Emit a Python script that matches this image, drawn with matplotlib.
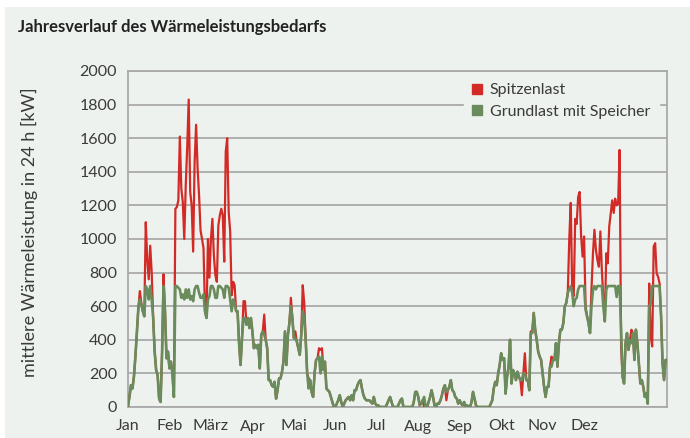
import numpy as np
import matplotlib
matplotlib.use("Agg")
import matplotlib.pyplot as plt
from matplotlib.lines import Line2D
from matplotlib.patches import Rectangle

# ---------------- data (daily values, kW) ----------------
title = "Jahresverlauf des Wärmeleistungsbedarfs"
ylabel = "mittlere Wärmeleistung in 24 h [kW]"
months = ["Jan", "Feb", "März", "Apr", "Mai", "Jun", "Jul", "Aug", "Sep", "Okt", "Nov", "Dez"]
series_names = ["Spitzenlast", "Grundlast mit Speicher"]

spitzenlast = [
    0, 60, 130, 110, 180, 300, 450, 590, 690, 620,
    570, 540, 1100, 880, 760, 960, 800, 530, 330, 220,
    190, 50, 30, 320, 790, 570, 290, 330, 230, 270,
    200, 60, 1180, 1190, 1230, 1610, 1300, 1220, 1000, 1320,
    1550, 1830, 1280, 1200, 925, 1460, 1680, 1420, 1260, 1050,
    1000, 945, 570, 530, 1000, 770, 1000, 1120, 900, 785,
    745, 1080, 1140, 1180, 1140, 865, 1520, 1600, 1160, 1045,
    665, 745, 725, 570, 570, 380, 250, 410, 630, 630,
    490, 530, 470, 530, 450, 350, 370, 350, 370, 230,
    430, 450, 550, 400, 350, 160, 160, 130, 120, 150,
    50, 100, 170, 170, 210, 270, 450, 250, 430, 500,
    650, 530, 410, 450, 390, 350, 310, 430, 725, 620,
    400, 200, 170, 160, 90, 60, 200, 280, 290, 350,
    340, 350, 220, 270, 110, 100, 90, 60, 30, 0,
    0, 20, 40, 70, 30, 0, 20, 40, 50, 60,
    40, 70, 40, 100, 100, 130, 150, 160, 110, 70,
    50, 40, 40, 40, 30, 20, 60, 20, 10, 10,
    0, 0, 0, 0, 0, 20, 40, 60, 30, 0,
    0, 0, 0, 20, 40, 50, 0, 0, 0, 0,
    0, 0, 0, 30, 90, 90, 60, 10, 20, 40,
    0, 0, 0, 30, 60, 100, 60, 10, 0, 20,
    20, 40, 70, 110, 130, 40, 100, 120, 160, 100,
    90, 60, 50, 20, 40, 20, 10, 30, 0, 10,
    0, 0, 30, 90, 50, 10, 0, 0, 0, 0,
    0, 0, 0, 0, 0, 20, 40, 110, 150, 130,
    200, 250, 320, 280, 290, 80, 180, 240, 400, 140,
    220, 200, 160, 210, 180, 160, 70, 200, 320, 160,
    160, 100, 450, 440, 560, 460, 400, 330, 300, 280,
    200, 120, 60, 120, 120, 240, 300, 280, 280, 380,
    240, 380, 460, 460, 500, 600, 620, 680, 1000, 1215,
    680, 660, 1120, 1090, 1250, 1280, 1015, 895, 1015, 600,
    540, 500, 440, 700, 915, 1055, 935, 875, 835, 1045,
    815, 650, 510, 915, 855, 1075, 1155, 1230, 1155, 1240,
    1200, 1210, 1530, 360, 180, 140, 380, 440, 340, 400,
    460, 440, 280, 460, 380, 260, 140, 160, 120, 60,
    80, 20, 735, 420, 360, 955, 975, 795, 775, 735,
    540, 260, 160, 280, 280,
]

grundlast = [
    10, 60, 130, 110, 180, 300, 450, 590, 640, 610,
    570, 540, 720, 700, 640, 720, 640, 530, 330, 220,
    190, 50, 30, 320, 720, 570, 290, 330, 230, 270,
    200, 60, 720, 720, 710, 700, 650, 670, 640, 700,
    650, 700, 640, 660, 630, 700, 720, 720, 680, 650,
    650, 670, 570, 530, 640, 660, 720, 720, 700, 650,
    650, 720, 720, 710, 700, 650, 720, 720, 710, 640,
    570, 640, 620, 570, 570, 380, 250, 410, 530, 530,
    490, 530, 470, 530, 450, 350, 370, 350, 370, 230,
    430, 450, 430, 400, 350, 160, 160, 130, 120, 150,
    50, 100, 170, 170, 210, 270, 450, 250, 430, 500,
    600, 530, 410, 410, 390, 350, 310, 430, 570, 530,
    400, 200, 110, 160, 90, 60, 200, 280, 290, 300,
    200, 300, 220, 270, 110, 100, 90, 60, 30, 0,
    0, 20, 40, 70, 30, 0, 20, 40, 50, 60,
    40, 70, 40, 100, 100, 130, 150, 160, 110, 70,
    50, 40, 40, 40, 30, 20, 60, 20, 10, 10,
    0, 0, 0, 0, 0, 20, 40, 60, 30, 0,
    0, 0, 0, 20, 40, 50, 0, 0, 0, 0,
    0, 0, 0, 30, 90, 90, 60, 10, 20, 40,
    60, 0, 0, 30, 60, 100, 60, 10, 0, 20,
    20, 40, 70, 110, 130, 90, 100, 120, 160, 100,
    90, 60, 50, 20, 40, 20, 10, 30, 0, 10,
    0, 0, 30, 90, 50, 10, 0, 0, 0, 0,
    0, 0, 0, 0, 0, 20, 40, 110, 150, 130,
    200, 250, 320, 280, 290, 80, 180, 240, 400, 140,
    220, 200, 160, 210, 180, 160, 160, 200, 200, 160,
    160, 100, 440, 440, 560, 460, 400, 330, 300, 280,
    200, 120, 60, 120, 120, 240, 240, 280, 280, 380,
    240, 380, 460, 460, 500, 600, 620, 680, 700, 720,
    680, 600, 640, 650, 700, 720, 720, 720, 720, 580,
    540, 500, 440, 600, 695, 720, 700, 720, 720, 720,
    720, 600, 510, 700, 720, 720, 720, 720, 720, 720,
    655, 720, 720, 460, 180, 140, 380, 440, 340, 400,
    380, 440, 280, 460, 380, 260, 140, 160, 120, 60,
    80, 20, 600, 615, 720, 720, 720, 720, 720, 720,
    540, 260, 160, 280, 280,
]

# ---------------- style ----------------
BG = "#eef2ee"
TXT = "#3a3a3a"
GRID = "#a9a9a9"
RED = "#d22b27"
GREEN = "#6a8c5c"
FONT = ["Lato", "DejaVu Sans"]

W, H = 690, 438
fig = plt.figure(figsize=(W / 100, H / 100), dpi=100, facecolor="white")
fig.patches.append(Rectangle((5 / W, 0), 1, 1 - 7 / H, transform=fig.transFigure,
                             facecolor=BG, edgecolor="none", zorder=-10))

ax = fig.add_axes([128 / W, 1 - 407 / H, (667 - 128) / W, (407 - 71) / H])
ax.set_facecolor(BG)

days = np.arange(len(grundlast))
ax.plot(days, spitzenlast, color=RED, lw=1.6, zorder=3, solid_joinstyle="round")
ax.plot(days, grundlast, color=GREEN, lw=1.9, zorder=4, solid_joinstyle="round")

ax.set_xlim(0, len(grundlast) - 1)
ax.set_ylim(0, 2000)
yt = np.arange(0, 2001, 200)
ax.set_yticks(yt)
for v in yt:
    ax.axhline(v, color=GRID, lw=1.3, zorder=1)
ax.set_xticks(np.arange(len(months)) * 28)
ax.set_xticklabels(months)
ax.tick_params(length=0, labelsize=11.5, labelcolor=TXT)
ax.tick_params(axis="y", pad=8)
ax.tick_params(axis="x", pad=9)
for lab in ax.get_xticklabels() + ax.get_yticklabels():
    lab.set_family(FONT)

for s in ax.spines.values():
    s.set_color(GRID)
    s.set_linewidth(1.3)

ax.set_ylabel(ylabel, fontsize=13, color=TXT, family=FONT)
ax.yaxis.set_label_coords((38 - 128) / (667 - 128), (407 - 232) / (407 - 71))

handles = [Line2D([], [], ls="none", marker="s", markersize=7.5, color=RED),
           Line2D([], [], ls="none", marker="s", markersize=7.5, color=GREEN)]
leg = ax.legend(handles, series_names, loc="upper left",
                bbox_to_anchor=((462 - 128) / (667 - 128), 0.995),
                frameon=True, fancybox=False, handlelength=0.6, handletextpad=0.5,
                labelspacing=0.45, borderpad=0.55, borderaxespad=0.1,
                prop={"family": FONT, "size": 11.5})
frame = leg.get_frame()
frame.set_facecolor(BG)
frame.set_edgecolor(BG)
frame.set_alpha(1)
leg.set_zorder(10)
for t in leg.get_texts():
    t.set_color(TXT)

fig.text(18 / W, 1 - 27 / H, title, ha="left", va="center", fontsize=12,
         fontweight="bold", color="#222222", family=FONT)

fig.savefig("out.png", dpi=100, facecolor=fig.get_facecolor())
